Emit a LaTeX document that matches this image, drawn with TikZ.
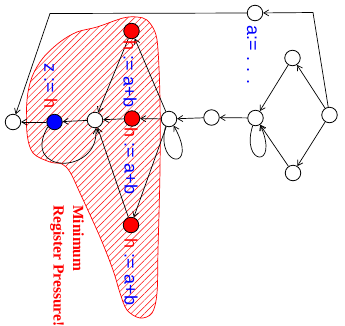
\documentclass[tikz,border=0pt]{standalone}
\usepackage{fontspec}
\setmainfont{Liberation Serif}
\setsansfont{Liberation Sans}
\usetikzlibrary{arrows.meta,patterns.meta}
\begin{document}
\begin{tikzpicture}[x=1pt,y=-1pt,
  vtx/.style={circle,draw,line width=0.8pt,minimum size=15.5pt,inner sep=0pt,fill=white},
  rednode/.style={vtx,fill=red},
  bluenode/.style={vtx,fill=blue},
  edge/.style={draw,line width=0.7pt,-{Straight Barb[length=5pt,width=6pt]}},
  lbl/.style={font=\sffamily\fontsize{18}{20}\selectfont,rotate=-90,inner sep=0pt,text=blue},
  note/.style={font=\bfseries\fontsize{15.5}{19.5}\selectfont,rotate=-90,inner sep=0pt,text=red,align=left,anchor=north west},
]
\useasboundingbox (0,0) rectangle (345,325);

% hatched region
\draw[red,line width=0.7pt,pattern={Lines[angle=45,distance=4.7pt,line width=0.45pt]},pattern color=red]
  plot[smooth cycle,tension=0.55] coordinates {
   (27,100) (27,133) (33,153) (50,162) (62,164) (70,172) (80,193) (100,237) (113,270)
   (120,293) (127,310) (140,318) (152,313) (157,293) (158,250) (160,170) (160,100)
   (158,50) (155,32) (147,20) (137,17) (123,18) (97,27) (77,32) (60,42) (43,58) (32,77)};

% nodes
\node[vtx] (A) at (13,122) {};
\node[bluenode] (B) at (54.5,122) {};
\node[vtx] (C) at (95,120) {};
\node[rednode] (D) at (132,118.5) {};
\node[rednode] (E) at (131.5,31) {};
\node[rednode] (F) at (131,225) {};
\node[vtx] (G) at (169,119) {};
\node[vtx] (H) at (211.5,117.5) {};
\node[vtx] (I) at (255.5,118) {};
\node[vtx] (J) at (292.5,58) {};
\node[vtx] (K) at (329.5,115) {};
\node[vtx] (L) at (293,173) {};
\node[vtx] (M) at (255,13) {};

\coordinate (km) at (313,12.5);
\coordinate (ma) at (50,13.5);

% edges
\draw[edge] (K) -- (km) -- (M);
\draw[edge] (M) -- (ma) -- (A);
\draw[edge] (K) -- (J);
\draw[edge] (K) -- (L);
\draw[edge] (J) -- (I);
\draw[edge] (L) -- (I);
\draw[edge] (I) -- (H);
\draw[edge] (H) -- (G);
\draw[edge] (G) -- (D);
\draw[edge] (D) -- (C);
\draw[edge] (C) -- (B);
\draw[edge] (B) -- (A);
\draw[edge] (G) -- (E);
\draw[edge] (E) -- (C);
\draw[edge] (G) -- (F);
\draw[edge] (F) -- (C);
\draw[edge] (I.250) .. controls (240,165) and (280,170) .. (I.-55);
\draw[edge] (G.245) .. controls (155,168) and (200,172) .. (G.-55);
\draw[edge] (B.215) .. controls (20,175) and (100,175) .. (C.-85);

% labels
\node[lbl] (l1) at (130,74) {\textcolor{red}{h} := a+b};
\node[lbl] (l2) at (131,161) {\textcolor{red}{h} := a+b};
\node[lbl] (l3) at (131,272) {\textcolor{red}{h} := a+b};
\node[lbl] (l4) at (51,86) {z := \textcolor{red}{h}};
\node[lbl] (l5) at (252,55) {a:= . . .};
\node[note] (n1) at (84,205) {Minimum\\Register Pressure!};
\end{tikzpicture}
\end{document}
